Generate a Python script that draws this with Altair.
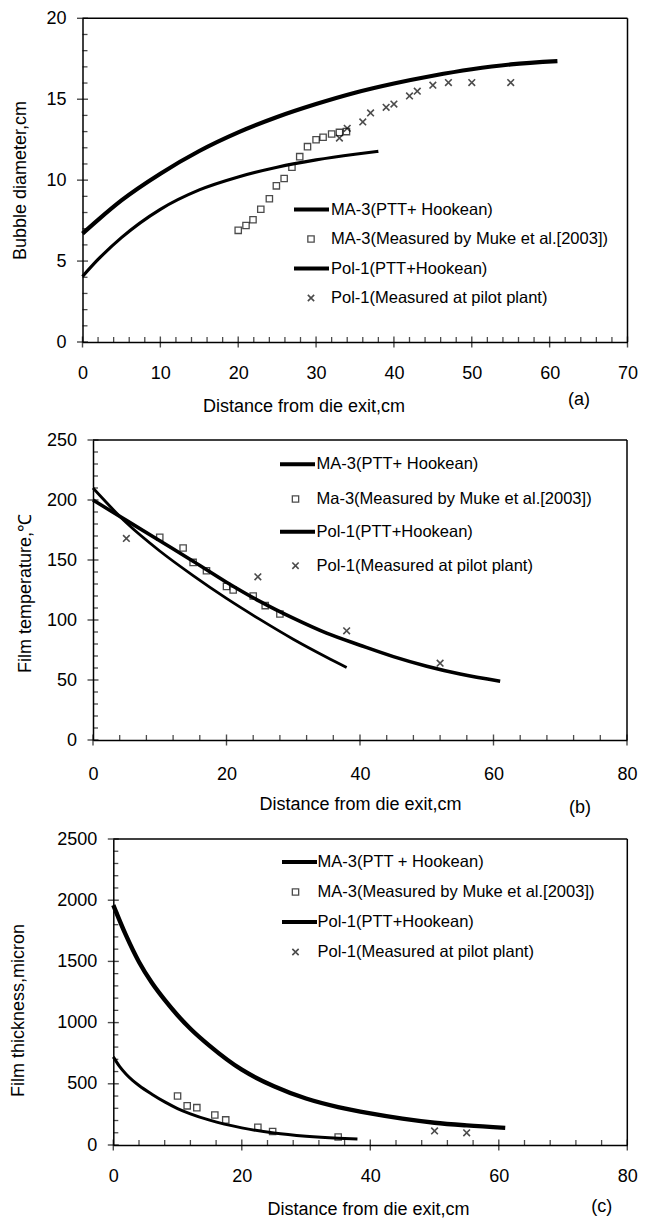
import altair as alt
import pandas as pd

FONT = "Liberation Sans"
X_TITLE = "Distance from die exit,cm"
CROSS = "M-1,-1L1,1M1,-1L-1,1"
BAND_W = 630

# ---------------- (a) bubble diameter ----------------
a_pol_x = [0, 2, 5, 10, 15, 20, 25, 30, 35, 40, 45, 50, 55, 61]
a_pol_y = [6.7, 7.55, 8.75, 10.4, 11.8, 12.95, 13.9, 14.7, 15.4, 15.97, 16.45, 16.85, 17.15, 17.35]
a_ma_x = [0, 2, 5, 10, 15, 20, 25, 30, 35, 38]
a_ma_y = [4.05, 5.1, 6.45, 8.2, 9.4, 10.2, 10.8, 11.25, 11.6, 11.78]
a_sq_x = [20.0, 21.0, 21.9, 22.9, 24.0, 24.9, 25.9, 26.9, 27.9, 28.9, 30.0, 30.9, 32.0, 33.0, 33.9]
a_sq_y = [6.9, 7.2, 7.55, 8.2, 8.85, 9.65, 10.1, 10.8, 11.45, 12.07, 12.5, 12.65, 12.85, 12.95, 13.0]
a_cr_x = [33.0, 34.0, 36.0, 37.0, 39.0, 40.0, 42.0, 43.0, 45.0, 47.0, 50.0, 55.0]
a_cr_y = [12.6, 13.2, 13.6, 14.15, 14.5, 14.7, 15.2, 15.5, 15.87, 16.03, 16.03, 16.03]
a_legend = ["MA-3(PTT+ Hookean)", "MA-3(Measured by Muke et al.[2003])",
            "Pol-1(PTT+Hookean)", "Pol-1(Measured at pilot plant)"]

# ---------------- (b) film temperature ----------------
b_pol_x = [0, 5, 10, 15, 20, 25, 30, 35, 40, 45, 50, 55, 61]
b_pol_y = [200, 183, 166, 149, 131.5, 115.5, 101.5, 89, 79, 69.5, 61.5, 55, 49]
b_ma_x = [0, 5, 10, 15, 20, 25, 30, 35, 38]
b_ma_y = [210, 181, 157.5, 137, 118, 100.5, 84, 69, 60.5]
b_sq_x = [10, 13.5, 15, 17, 20, 21, 24, 25.8, 28]
b_sq_y = [169, 160, 148, 141, 128, 125, 120, 112, 105]
b_cr_x = [5, 24.7, 38, 52]
b_cr_y = [168, 136, 91, 64]
b_legend = ["MA-3(PTT+ Hookean)", "Ma-3(Measured by Muke et al.[2003])",
            "Pol-1(PTT+Hookean)", "Pol-1(Measured at pilot plant)"]

# ---------------- (c) film thickness ----------------
c_pol_x = [0, 2, 4, 6, 8, 10, 12, 15, 20, 25, 30, 35, 40, 45, 50, 55, 61]
c_pol_y = [1960, 1710, 1495, 1325, 1185, 1060, 950, 810, 615, 480, 380, 310, 258, 215, 182, 160, 140]
c_ma_x = [0, 1, 2, 3, 4, 6, 8, 10, 12, 15, 20, 25, 30, 35, 38]
c_ma_y = [720, 640, 578, 528, 486, 415, 352, 298, 255, 203, 140, 98, 72, 56, 50]
c_sq_x = [10, 11.5, 13, 15.8, 17.5, 22.5, 24.8, 35]
c_sq_y = [400, 320, 305, 245, 205, 145, 110, 65]
c_cr_x = [50, 55]
c_cr_y = [115, 100]
c_legend = ["MA-3(PTT + Hookean)", "MA-3(Measured by Muke et al.[2003])",
            "Pol-1(PTT+Hookean)", "Pol-1(Measured at pilot plant)"]

ONE = pd.DataFrame({"k": [0]})


def frame(xs, ys):
    return pd.DataFrame({"x": xs, "y": ys})


def steps(stop, step):
    out, v = [], 0
    while v <= stop + 1e-9:
        out.append(v)
        v += step
    return out


def panel(cfg):
    # each panel is a horizontal band; the plot rectangle sits inside it via the scale ranges
    left, right, top, bottom, cell = cfg["left"], cfg["right"], cfg["top"], cfg["bottom"], cfg["cell"]
    xs = alt.Scale(domain=[0, cfg["xmax"]], range=[left, right], nice=False, zero=False)
    ys = alt.Scale(domain=[0, cfg["ymax"]], range=[bottom, top], nice=False, zero=False)
    xmaj = steps(cfg["xmax"], cfg["xmajor"])
    ymaj = steps(cfg["ymax"], cfg["ymajor"])
    xmin = [v for v in steps(cfg["xmax"], cfg["xminor"]) if v not in xmaj]
    ymin = [v for v in steps(cfg["ymax"], cfg["yminor"]) if v not in ymaj]

    x_axis = alt.Axis(values=xmaj, format="d", title=X_TITLE, ticks=False, tickSize=0,
                      grid=False, labelPadding=cfg["xlabpad"], labelBaseline="middle",
                      labelFlush=False, labelOverlap=False,
                      offset=-(cell - bottom),
                      titleX=cfg["xtitle"][0], titleY=cfg["xtitle"][1],
                      titleAlign="center", titleBaseline="middle")
    y_axis = alt.Axis(values=ymaj, format="d", title=cfg["ytitle"], ticks=False, tickSize=0,
                      grid=False, labelPadding=16.5, labelBaseline="middle",
                      labelFlush=False, labelOverlap=False,
                      offset=-left,
                      titleX=cfg["ytitlepos"][0], titleY=cfg["ytitlepos"][1],
                      titleAlign="center", titleBaseline="middle", titleAngle=270)

    layers = []
    # model curves: MA-3 (thinner) and Pol-1 (heavier)
    layers.append(alt.Chart(frame(cfg["ma"][0], cfg["ma"][1])).mark_line(
        color="black", strokeWidth=cfg["ma_w"], interpolate="monotone").encode(
        x=alt.X("x:Q", scale=xs, axis=x_axis),
        y=alt.Y("y:Q", scale=ys, axis=y_axis)))
    layers.append(alt.Chart(frame(cfg["pol"][0], cfg["pol"][1])).mark_line(
        color="black", strokeWidth=cfg["pol_w"], interpolate="monotone").encode(
        x="x:Q", y="y:Q"))
    # measurements
    layers.append(alt.Chart(frame(cfg["sq"][0], cfg["sq"][1])).mark_point(
        shape="square", size=40, filled=False, color="black", strokeWidth=1.3).encode(
        x="x:Q", y="y:Q"))
    layers.append(alt.Chart(frame(cfg["cr"][0], cfg["cr"][1])).mark_point(
        shape=CROSS, size=44, filled=False, color="black", strokeWidth=1.6).encode(
        x="x:Q", y="y:Q"))

    # top and right border of the plot box
    layers.append(alt.Chart(ONE).mark_rule(color="black", strokeWidth=1.5).encode(
        x=alt.datum(0), x2=alt.datum(cfg["xmax"]), y=alt.datum(cfg["ymax"])))
    layers.append(alt.Chart(ONE).mark_rule(color="black", strokeWidth=1.5).encode(
        x=alt.datum(cfg["xmax"]), y=alt.datum(0), y2=alt.datum(cfg["ymax"])))

    # tick marks: majors cross the axis line, minors point inward
    layers.append(alt.Chart(pd.DataFrame({"x": xmaj})).mark_tick(
        orient="vertical", size=11, thickness=1.4, color="black").encode(
        x="x:Q", y=alt.datum(0)))
    layers.append(alt.Chart(pd.DataFrame({"x": xmin})).mark_tick(
        orient="vertical", size=5, thickness=1.3, color="black", yOffset=-2.5).encode(
        x="x:Q", y=alt.datum(0)))
    layers.append(alt.Chart(pd.DataFrame({"y": ymaj})).mark_tick(
        orient="horizontal", size=11, thickness=1.4, color="black").encode(
        y="y:Q", x=alt.datum(0)))
    layers.append(alt.Chart(pd.DataFrame({"y": ymin})).mark_tick(
        orient="horizontal", size=5, thickness=1.3, color="black", xOffset=2.5).encode(
        y="y:Q", x=alt.datum(0)))

    # legend
    lg = cfg["legend"]
    kinds = ["line", "square", "line", "cross"]
    for label, kind, ry in zip(cfg["labels"], kinds, lg["rows"]):
        if kind == "line":
            layers.append(alt.Chart(ONE).mark_rule(color="black", strokeWidth=4).encode(
                x=alt.value(lg["x1"]), x2=alt.value(lg["x2"]), y=alt.value(ry)))
        else:
            shape = "square" if kind == "square" else CROSS
            layers.append(alt.Chart(ONE).mark_point(
                shape=shape, size=40, filled=False, color="black",
                strokeWidth=1.3 if kind == "square" else 1.6).encode(
                x=alt.value(lg["sx"]), y=alt.value(ry)))
        layers.append(alt.Chart(ONE).mark_text(
            text=label, align="left", baseline="middle", font=FONT, fontSize=16.5,
            color="black").encode(x=alt.value(lg["tx"]), y=alt.value(ry)))

    # panel tag
    layers.append(alt.Chart(ONE).mark_text(
        text=cfg["tag"], align="center", baseline="middle", font=FONT, fontSize=18,
        color="black").encode(x=alt.value(cfg["tagpos"][0]), y=alt.value(cfg["tagpos"][1])))

    return alt.layer(*layers).properties(width=BAND_W, height=cell)


pa = panel(dict(
    xmax=70, xmajor=10, xminor=2, ymax=20, ymajor=5, yminor=1,
    left=82.5, right=627.5, top=18.3, bottom=342, cell=420,
    ytitle="Bubble diameter,cm", ytitlepos=(-62, 180), xtitle=(303.5, 64), xlabpad=31.5,
    ma=(a_ma_x, a_ma_y), pol=(a_pol_x, a_pol_y), ma_w=3.2, pol_w=4.2,
    sq=(a_sq_x, a_sq_y), cr=(a_cr_x, a_cr_y), labels=a_legend,
    legend=dict(x1=294, x2=329, sx=311, tx=331, rows=[209.5, 239, 268.5, 298]),
    tag="(a)", tagpos=(579, 400)))

pb = panel(dict(
    xmax=80, xmajor=20, xminor=4, ymax=250, ymajor=50, yminor=10,
    left=93, right=627, top=20, bottom=320, cell=400,
    ytitle="Film temperature,℃", ytitlepos=(-68, 173), xtitle=(360, 64), xlabpad=34,
    ma=(b_ma_x, b_ma_y), pol=(b_pol_x, b_pol_y), ma_w=2.8, pol_w=3.6,
    sq=(b_sq_x, b_sq_y), cr=(b_cr_x, b_cr_y), labels=b_legend,
    legend=dict(x1=280, x2=315, sx=295.5, tx=316.5, rows=[44.3, 79, 111.7, 145.7]),
    tag="(b)", tagpos=(580, 388)))

pc = panel(dict(
    xmax=80, xmajor=20, xminor=4, ymax=2500, ymajor=500, yminor=100,
    left=113.3, right=627.3, top=19, bottom=325, cell=401,
    ytitle="Film thickness,micron", ytitlepos=(-95, 190), xtitle=(368, 64), xlabpad=31,
    ma=(c_ma_x, c_ma_y), pol=(c_pol_x, c_pol_y), ma_w=3.0, pol_w=4.4,
    sq=(c_sq_x, c_sq_y), cr=(c_cr_x, c_cr_y), labels=c_legend,
    legend=dict(x1=282, x2=317, sx=295.5, tx=317.5, rows=[42, 72, 102, 132]),
    tag="(c)", tagpos=(601.7, 386.7)))

chart = alt.vconcat(pa, pb, pc, spacing=0, bounds="flush").properties(
    padding=0, background="white"
).configure_view(strokeWidth=0).configure_axis(
    labelFont=FONT, labelFontSize=18, labelColor="black",
    titleFont=FONT, titleFontSize=18, titleFontWeight="normal", titleColor="black",
    domainColor="black", domainWidth=1.5)

chart.save("out.html", embed_options={"renderer": "svg", "actions": False})
